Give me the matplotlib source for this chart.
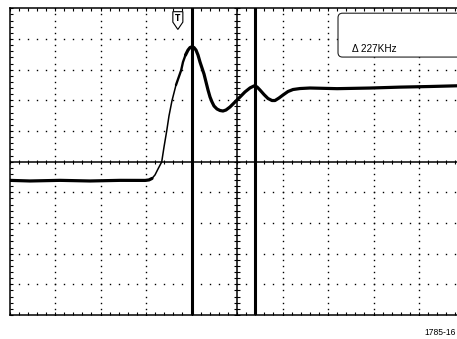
import numpy as np
import matplotlib
matplotlib.use("Agg")
import matplotlib.pyplot as plt
from matplotlib.ticker import MultipleLocator
from matplotlib.patches import Polygon, FancyBboxPatch

# trace, in divisions (x: time, y: volts), centre = 0,0
trace_x = [-5.00, -4.55, -3.89, -3.23, -2.57, -2.02, -1.934, -1.868, -1.802, -1.736,
           -1.655, -1.604, -1.545, -1.495, -1.429, -1.341, -1.226, -1.187, -1.132, -1.077,
           -1.033, -0.989, -0.945, -0.901, -0.857, -0.813, -0.769, -0.725, -0.681, -0.637,
           -0.593, -0.549, -0.505, -0.440, -0.374, -0.308, -0.242, -0.154, -0.044, 0.066,
           0.176, 0.286, 0.374, 0.440, 0.505, 0.593, 0.681, 0.769, 0.835, 0.923,
           1.011, 1.121, 1.231, 1.385, 1.604, 2.20, 2.92, 3.58, 4.24, 5.00]
trace_y = [-0.61, -0.63, -0.61, -0.63, -0.61, -0.612, -0.596, -0.547, -0.433, -0.238,
           -0.01, 0.479, 1.000, 1.489, 1.987, 2.498, 2.986, 3.248, 3.476, 3.638,
           3.720, 3.746, 3.720, 3.638, 3.476, 3.248, 3.052, 2.857, 2.596, 2.336,
           2.108, 1.945, 1.814, 1.717, 1.668, 1.651, 1.684, 1.782, 1.945, 2.108,
           2.274, 2.404, 2.469, 2.436, 2.336, 2.189, 2.059, 1.993, 1.993, 2.075,
           2.173, 2.287, 2.352, 2.384, 2.401, 2.38, 2.40, 2.43, 2.45, 2.48]
# fast rising edge is drawn thinner (indices into the trace)
thin_start, thin_end, mid_end = 7, 15, 18

cursors = [-0.99, 0.385]
trigger_x = -1.30
readout = "\u0394 227KHz"
fig_label = "1785-16"

fig = plt.figure(figsize=(4.57, 3.39), dpi=100)
ax = fig.add_axes([9.5 / 457, 24 / 339, 455 / 457, 306.7 / 339])
ax.set_xlim(-5, 5)
ax.set_ylim(-5, 5)

# frame with inward minor ticks
for s in ax.spines.values():
    s.set_linewidth(1.1)
ax.xaxis.set_major_locator(MultipleLocator(0.2))
ax.yaxis.set_major_locator(MultipleLocator(0.2))
ax.tick_params(direction="in", length=2.0, width=0.8, top=True, right=True,
               labelbottom=False, labelleft=False)

# dotted graticule
xs = np.arange(-5, 5.001, 0.2)
for g in [-4, -3, -2, -1, 1, 2, 3, 4]:
    ax.plot(xs, np.full_like(xs, g), ls="none", marker="s", ms=1.0, mew=0, color="k")
    ax.plot(np.full_like(xs, g), xs, ls="none", marker="s", ms=1.0, mew=0, color="k")

# centre cross with ticks
ax.axhline(0, color="k", lw=1.1)
ax.axvline(0, color="k", lw=1.1)
ax.plot(xs, np.zeros_like(xs), ls="none", marker="|", ms=3.5, mew=0.8, color="k")
ax.plot(np.zeros_like(xs), xs, ls="none", marker="_", ms=4.0, mew=0.8, color="k")

# cursors
for c in cursors:
    ax.axvline(c, color="k", lw=2.2)

# waveform
tx, ty = np.array(trace_x), np.array(trace_y)
kw = dict(color="k", solid_capstyle="round", solid_joinstyle="round")
ax.plot(tx[:thin_start + 1], ty[:thin_start + 1], lw=2.3, **kw)
ax.plot(tx[thin_start:thin_end + 1], ty[thin_start:thin_end + 1], lw=1.1, **kw)
ax.plot(tx[thin_end:mid_end + 1], ty[thin_end:mid_end + 1], lw=1.7, **kw)
ax.plot(tx[mid_end:], ty[mid_end:], lw=2.3, **kw)

# trigger marker
ax.add_patch(Polygon([(trigger_x - 0.11, 4.89), (trigger_x + 0.11, 4.89),
                      (trigger_x + 0.11, 4.55), (trigger_x, 4.31),
                      (trigger_x - 0.11, 4.55)], closed=True,
                     facecolor="white", edgecolor="k", lw=0.8, zorder=5))
ax.text(trigger_x, 4.68, "T", ha="center", va="center", fontsize=5.5,
        fontweight="bold", family="DejaVu Sans", zorder=6)

# readout box
ax.add_patch(FancyBboxPatch((2.22, 3.41), 3.5, 1.43,
                            boxstyle="round,pad=0,rounding_size=0.1",
                            mutation_aspect=45.5 / 30.7, facecolor="white",
                            edgecolor="#222222", lw=0.8, zorder=5, clip_on=False))
ax.text(2.53, 3.57, readout, ha="left", va="baseline", fontsize=7.2,
        family=["Liberation Sans", "DejaVu Sans"], zorder=6)

fig.text(456 / 457, 4 / 339, fig_label, ha="right", va="baseline", fontsize=6.2,
         family=["Liberation Sans", "DejaVu Sans"])

fig.savefig("out.png", dpi=100)
